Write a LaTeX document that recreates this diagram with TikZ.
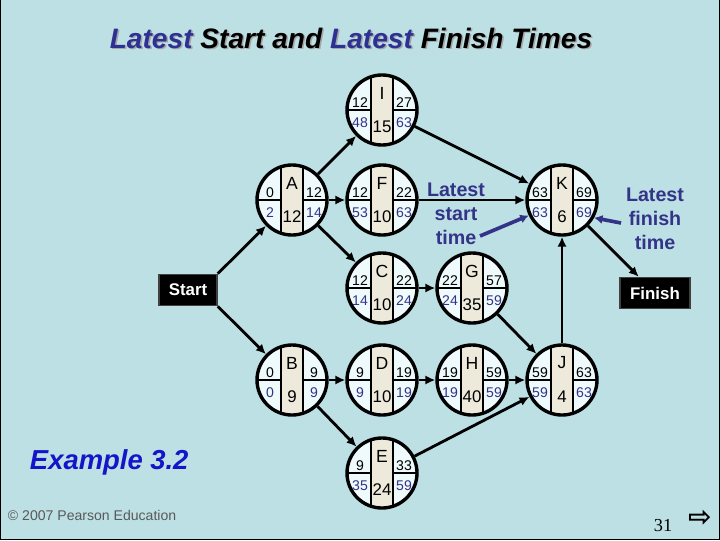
\documentclass[tikz,border=0pt]{standalone}
\usepackage{fontspec}
\setmainfont{Liberation Sans}
\newfontfamily\symfont{DejaVu Sans}
\newfontfamily\pagefont{Liberation Serif}
\usepackage{xcolor}
\usepackage{tikz}
\usetikzlibrary{shapes,arrows.meta,positioning,calc}
\definecolor{slidebg}{HTML}{BCE0E4}
\definecolor{cellfill}{HTML}{EEFAFB}
\definecolor{stripfill}{HTML}{EDEADC}
\definecolor{lateblue}{HTML}{333388}
\definecolor{titleblue}{HTML}{2E3192}
\definecolor{exblue}{HTML}{1414C8}

% one activity: name, centre, letter, duration, ES, EF, LS, LF
\newcommand{\activity}[8]{%
  \begin{scope}[shift={(#2)}]
    \begin{scope}
      \clip (0,0) circle (35);
      \fill[cellfill] (-35,-35) rectangle (35,35);
      \fill[stripfill] (-11,-35) rectangle (11,35);
      \draw[line width=2pt] (-11,-35) -- (-11,35) (11,-35) -- (11,35);
      \draw[line width=1.6pt] (-35,0) -- (-11,0) (11,0) -- (35,0);
    \end{scope}
    \node[act] (#1) at (0,0) {};
    \node[actid] (#1-id) at (0,-17) {#3};
    \node[actdur] (#1-dur) at (0,17) {#4};
    \node[num] (#1-es) at (-22,-7) {#5};
    \node[num] (#1-ef) at (22,-7) {#6};
    \node[num, lateblue] (#1-ls) at (-22,13) {#7};
    \node[num, lateblue] (#1-lf) at (22,13) {#8};
  \end{scope}}

\begin{document}
\begin{tikzpicture}[x=0.025cm, y=-0.025cm,
  act/.style={circle, draw, line width=2.4pt, minimum size=1.75cm, inner sep=0pt},
  actid/.style={inner sep=0pt, font=\fontsize{12.5}{13}\selectfont},
  actdur/.style={inner sep=0pt, font=\fontsize{12}{13}\selectfont},
  num/.style={inner sep=0pt, font=\fontsize{10}{11}\selectfont},
  term/.style={fill=black, draw=black!75, line width=1pt, text=white, font=\bfseries\fontsize{12}{13}\selectfont, minimum height=0.78cm},
  link/.style={line width=2pt, -{Latex[length=7pt, width=6.5pt]}},
  pointer/.style={lateblue, line width=2.6pt, -{Latex[length=6pt, width=6.5pt]}},
  note/.style={lateblue, align=center, font=\bfseries\fontsize{14}{17}\selectfont},
  ]
  \useasboundingbox (0,0) rectangle (720,540);
  \fill[slidebg] (0,0) rectangle (720,540);
  \draw[line width=1pt] (0.7,0) -- (0.7,539.3) -- (719.3,539.3) -- (719.3,0);

  % title
  \node[text=black!35, font=\bfseries\itshape\fontsize{20}{24}\selectfont] (title-shadow) at (352.5,39.5) {Latest Start and Latest Finish Times};
  \node[font=\bfseries\itshape\fontsize{20}{24}\selectfont] (title) at (351,38) {\textcolor{titleblue}{Latest} Start and \textcolor{titleblue}{Latest} Finish Times};

  % activities
  \activity{I}{382,110}{I}{15}{12}{27}{48}{63}
  \activity{A}{292,200}{A}{12}{0}{12}{2}{14}
  \activity{F}{382,200}{F}{10}{12}{22}{53}{63}
  \activity{C}{382,288}{C}{10}{12}{22}{14}{24}
  \activity{B}{292,380}{B}{9}{0}{9}{0}{9}
  \activity{D}{382,380}{D}{10}{9}{19}{9}{19}
  \activity{E}{382,473}{E}{24}{9}{33}{35}{59}
  \activity{G}{472,288}{G}{35}{22}{57}{24}{59}
  \activity{H}{472,380}{H}{40}{19}{59}{19}{59}
  \activity{K}{562,200}{K}{6}{63}{69}{63}{69}
  \activity{J}{562,380}{J}{4}{59}{63}{59}{63}

  \node[term, minimum width=1.45cm] (start) at (188,290) {Start};
  \node[term, minimum width=1.75cm] (finish) at (655,293) {Finish};

  % precedence links
  \draw[link] (start.north east) -- (A);
  \draw[link] (start.south east) -- (B);
  \draw[link] (A) -- (I);
  \draw[link] (A) -- (F);
  \draw[link] (A) -- (C);
  \draw[link] (B) -- (D);
  \draw[link] (B) -- (E);
  \draw[link] (C) -- (G);
  \draw[link] (D) -- (H);
  \draw[link] (F) -- (K);
  \draw[link] (I) -- (K);
  \draw[link] (G) -- (J);
  \draw[link] (H) -- (J);
  \draw[link] (E) -- (J);
  \draw[link] (J) -- (K);
  \draw[link] (K) -- (finish);

  % callouts
  \node[note] (ls-note) at (456,214) {Latest\\start\\time};
  \node[note] (lf-note) at (655,219) {Latest\\finish\\time};
  \coordinate (ls-tail) at (480,236);
  \coordinate (lf-tail) at (621,223);
  \draw[pointer] (ls-tail) -- (K.205);
  \draw[pointer] (lf-tail) -- (K.331);

  % footer
  \node[anchor=west, exblue, font=\bfseries\itshape\fontsize{19.5}{22}\selectfont] (example) at (25,462) {Example 3.2};
  \node[anchor=west, text=black!65, font=\fontsize{10}{12}\selectfont] (copyright) at (3,515) {© 2007 Pearson Education};
  \node[font=\pagefont\fontsize{13}{14}\selectfont] (page) at (663,526) {31};
  \node[font=\symfont\bfseries\fontsize{20}{22}\selectfont] (next) at (700,518) {⇨};
\end{tikzpicture}
\end{document}
